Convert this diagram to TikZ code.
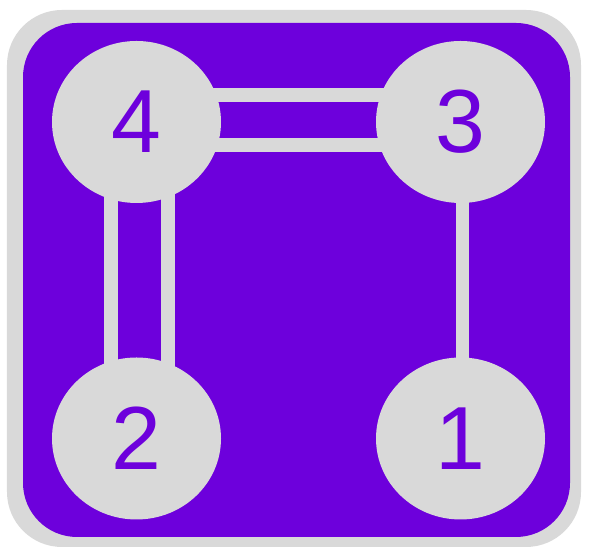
\documentclass[tikz,border=0pt]{standalone}
\usepackage{fontspec}
\setmainfont{Liberation Sans}
\usetikzlibrary{shapes.geometric}
\definecolor{violeta}{RGB}{109,0,220}
\definecolor{gris}{RGB}{217,217,217}
\pgfdeclarelayer{fondo}
\pgfdeclarelayer{aristas}
\pgfsetlayers{fondo,aristas,main}
\begin{document}
\begin{tikzpicture}[
  vertice/.style={ellipse,fill=gris,minimum width=3.38cm,minimum height=3.24cm,
    inner sep=0pt,text=violeta,font=\fontsize{51}{51}\selectfont},
  doble/.style={draw=gris,line width=0.28cm,double=violeta},
  simple/.style={draw=gris,line width=0.26cm}]
  \useasboundingbox (0,0) rectangle (11.8,10.98);
  \begin{pgfonlayer}{fondo}
    \fill[gris,rounded corners=1.1cm] (0.14,0.04) rectangle (11.62,10.78);
    \fill[violeta,rounded corners=1.08cm] (0.46,0.24) rectangle (11.4,10.52);
  \end{pgfonlayer}
  \node[vertice] (n4) at (2.73,8.54) {4};
  \node[vertice] (n3) at (9.21,8.54) {3};
  \node[vertice] (n2) at (2.73,2.21) {2};
  \node[vertice] (n1) at (9.21,2.21) {1};
  \begin{pgfonlayer}{aristas}
    \draw[doble,double distance=0.72cm] ([yshift=0.04cm]n4.center) -- ([yshift=0.04cm]n3.center);
    \draw[doble,double distance=0.86cm] ([xshift=0.05cm]n4.center) -- ([xshift=0.05cm]n2.center);
    \draw[simple] ([xshift=0.04cm]n3.center) -- ([xshift=0.04cm]n1.center);
  \end{pgfonlayer}
\end{tikzpicture}
\end{document}
